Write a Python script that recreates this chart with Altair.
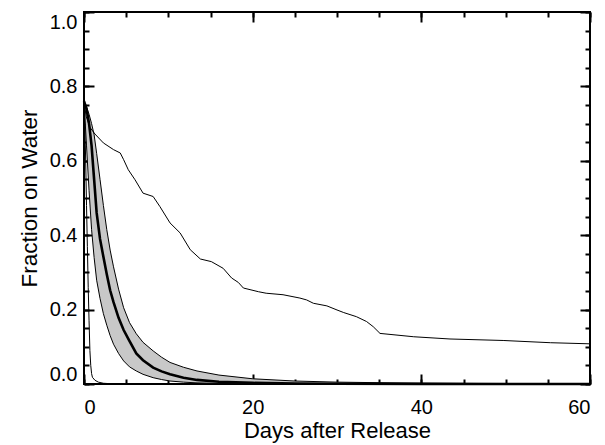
import altair as alt
import pandas as pd

# ---------------- data ----------------
band_days = [0, 0.3, 0.6, 0.9, 1.2, 1.5, 1.9, 2.3, 2.7, 3.1, 3.5, 4.1, 4.7, 5.4,
             6.2, 7.0, 8.2, 9.2, 10.2, 11.8, 13.4, 16, 20, 25, 30, 40, 60]
band_high = [0.76, 0.745, 0.725, 0.70, 0.67, 0.62, 0.55, 0.48, 0.415, 0.36, 0.315,
             0.255, 0.205, 0.165, 0.135, 0.112, 0.089, 0.072, 0.058, 0.045, 0.035,
             0.024, 0.014, 0.008, 0.005, 0.002, 0.0]
band_mid = [0.76, 0.74, 0.70, 0.64, 0.55, 0.46, 0.39, 0.342, 0.295, 0.252, 0.22,
            0.178, 0.145, 0.115, 0.082, 0.064, 0.044, 0.034, 0.026, 0.017, 0.011,
            0.006, 0.003, 0.0015, 0.0008, 0.0003, 0.0]
band_low = [0.76, 0.64, 0.52, 0.415, 0.34, 0.279, 0.23, 0.189, 0.158, 0.13, 0.107,
            0.082, 0.062, 0.046, 0.035, 0.026, 0.017, 0.012, 0.008, 0.005, 0.003,
            0.0015, 0.0005, 0.0002, 0.0, 0.0, 0.0]

steep_days = [0, 0.1, 0.2, 0.3, 0.4, 0.5, 0.6, 0.7, 0.8, 0.9, 1.0, 1.3, 1.7, 2.3,
              3.0, 4.0, 60]
steep_frac = [0.76, 0.70, 0.60, 0.48, 0.37, 0.26, 0.17, 0.09, 0.05, 0.028, 0.018,
              0.01, 0.005, 0.002, 0.001, 0.0, 0.0]

slow_days = [0, 0.25, 0.7, 1.3, 2.3, 3.5, 4.3, 4.7, 5.25, 6.05, 7.0, 8.2, 9.0, 10.2,
             11.4, 12.6, 13.8, 15.1, 16.5, 17.5, 18.3, 18.9, 20.7, 21.6, 23.6, 25.6,
             26.4, 27.2, 28.8, 30.0, 30.8, 32.3, 33.5, 34.3, 35.1, 39.1, 43.4, 49.7,
             55.3, 60]
slow_frac = [0.76, 0.72, 0.69, 0.672, 0.648, 0.63, 0.621, 0.603, 0.576, 0.549, 0.513,
             0.504, 0.477, 0.433, 0.406, 0.361, 0.336, 0.329, 0.311, 0.285, 0.273,
             0.258, 0.248, 0.244, 0.240, 0.231, 0.226, 0.217, 0.210, 0.199, 0.192,
             0.181, 0.168, 0.154, 0.136, 0.127, 0.121, 0.117, 0.111, 0.108]

x_major = [0, 20, 40, 60]
x_minor = [0, 5, 10, 15, 20, 25, 30, 35, 40, 45, 50, 55, 60]
y_major = [0.0, 0.2, 0.4, 0.6, 0.8, 1.0]
y_minor = [0.0, 0.05, 0.1, 0.15, 0.2, 0.25, 0.3, 0.35, 0.4, 0.45, 0.5, 0.55, 0.6,
           0.65, 0.7, 0.75, 0.8, 0.85, 0.9, 0.95, 1.0]

# ---------------- layout ----------------
W, H = 506, 372
FONT = "Liberation Sans"

band_df = pd.DataFrame({"day": band_days, "hi": band_high, "mid": band_mid, "lo": band_low})
steep_df = pd.DataFrame({"day": steep_days, "frac": steep_frac})
slow_df = pd.DataFrame({"day": slow_days, "frac": slow_frac})

xs = alt.Scale(domain=[0, 60], nice=False, zero=False)
ys = alt.Scale(domain=[0, 1], nice=False, zero=False)


def tick_axis(orient, offset, values, size):
    return alt.Axis(orient=orient, offset=offset, values=values, tickSize=size,
                    tickWidth=2, tickColor="black", labels=False, domain=False,
                    grid=False, title=None)


x_lab = alt.Axis(orient="bottom", values=x_major, ticks=False, tickSize=0,
                 domain=False, grid=False, labelPadding=13, labelFontSize=20,
                 labelFont=FONT, labelColor="black", title="Days after Release",
                 titleFont=FONT, titleFontSize=22, titleFontWeight="normal",
                 titleColor="black", titlePadding=3, format="d")
y_lab = alt.Axis(orient="left", values=y_major, ticks=False, tickSize=0,
                 domain=False, grid=False, labelPadding=7, labelFontSize=20,
                 labelFont=FONT, labelColor="black", labelFlush=True,
                 title="Fraction on Water", titleFont=FONT, titleFontSize=22.5,
                 titleFontWeight="normal", titleColor="black", titlePadding=8,
                 format=".1f")

area = alt.Chart(band_df).mark_area(color="#c8c8c8", opacity=1).encode(
    x=alt.X("day:Q", scale=xs, axis=x_lab),
    y=alt.Y("lo:Q", scale=ys, axis=y_lab),
    y2="hi:Q",
)

lo_line = alt.Chart(band_df).mark_line(color="black", strokeWidth=1).encode(
    x=alt.X("day:Q", scale=xs, axis=tick_axis("top", -H, x_major, 10)),
    y=alt.Y("lo:Q", scale=ys, axis=tick_axis("right", -W, y_major, 10)),
)
hi_line = alt.Chart(band_df).mark_line(color="black", strokeWidth=1).encode(
    x=alt.X("day:Q", scale=xs, axis=tick_axis("top", -H, x_minor, 5)),
    y=alt.Y("hi:Q", scale=ys, axis=tick_axis("right", -W, y_minor, 5)),
)
mid_line = alt.Chart(band_df).mark_line(color="black", strokeWidth=2.6).encode(
    x=alt.X("day:Q", scale=xs, axis=tick_axis("bottom", -H, x_major, 10)),
    y=alt.Y("mid:Q", scale=ys, axis=tick_axis("left", -W, y_major, 10)),
)
steep_line = alt.Chart(steep_df).mark_line(color="black", strokeWidth=1).encode(
    x=alt.X("day:Q", scale=xs, axis=tick_axis("bottom", -H, x_minor, 5)),
    y=alt.Y("frac:Q", scale=ys, axis=tick_axis("left", -W, y_minor, 5)),
)
slow_line = alt.Chart(slow_df).mark_line(color="black", strokeWidth=1).encode(
    x=alt.X("day:Q", scale=xs, axis=None),
    y=alt.Y("frac:Q", scale=ys, axis=None),
)

chart = (
    alt.layer(area, lo_line, hi_line, mid_line, steep_line, slow_line)
    .resolve_scale(x="shared", y="shared")
    .resolve_axis(x="independent", y="independent")
    .properties(width=W, height=H, autosize=alt.AutoSizeParams(type="none"),
                padding={"left": 76, "top": 4, "right": 7, "bottom": 60},
                background="white")
    .configure_view(stroke="black", strokeWidth=2)
)

chart.save("out.html", embed_options={"renderer": "svg", "actions": False})
